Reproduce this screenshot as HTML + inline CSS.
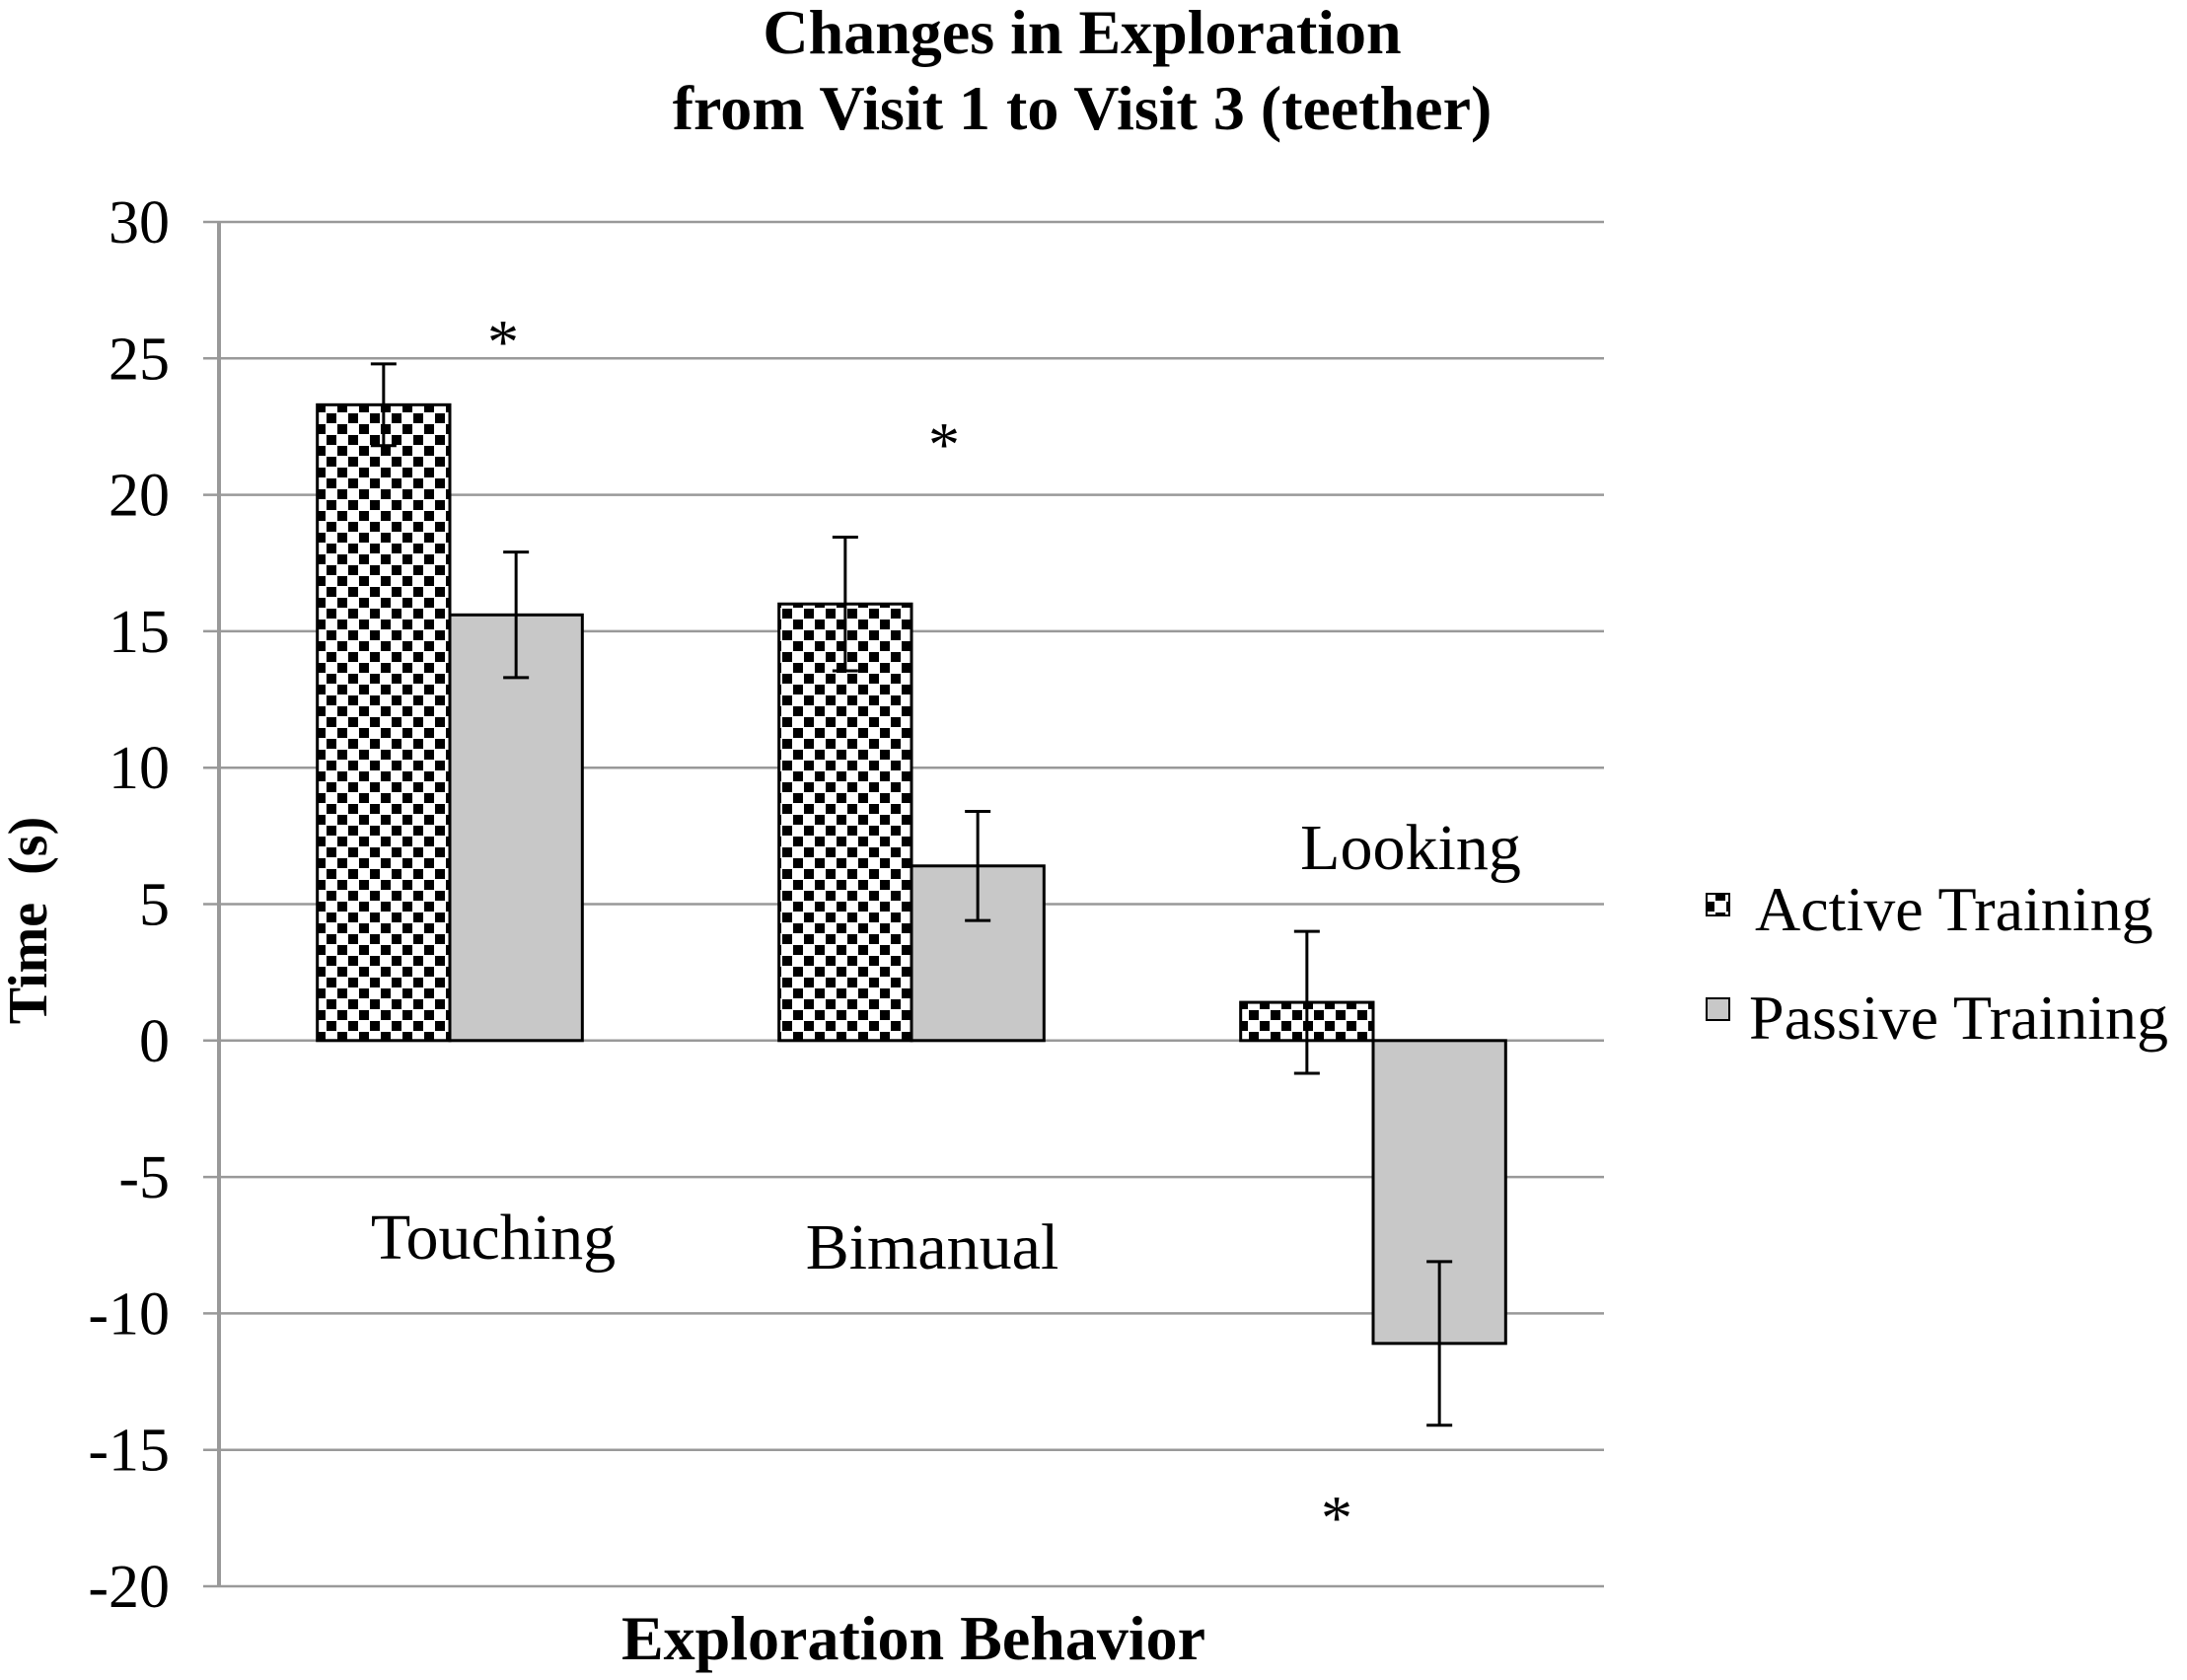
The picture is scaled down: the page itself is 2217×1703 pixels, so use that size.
<!DOCTYPE html>
<html><head><meta charset="utf-8"><style>
body{margin:0;background:#fff}
svg{display:block;font-family:"Liberation Serif",serif}
</style></head><body>
<svg id="chart" width="2217" height="1703" viewBox="0 0 2217 1703">
<defs>
<pattern id="chk" width="22" height="22" patternUnits="userSpaceOnUse">
<rect width="22" height="22" fill="#fff"/>
<rect x="1" y="1" width="10" height="10" fill="#000"/>
<rect x="12" y="12" width="10" height="10" fill="#000"/>
</pattern>
</defs>
<text x="1097" y="54" text-anchor="middle" font-size="64" font-weight="bold">Changes in Exploration</text>
<text x="1097" y="131" text-anchor="middle" font-size="64" font-weight="bold">from Visit 1 to Visit 3 (teether)</text>
<g id="grid"></g><g id="bars"></g><g id="errs"></g>
<text transform="translate(47,933) rotate(-90)" text-anchor="middle" font-size="56" font-weight="bold" xml:space="preserve">Time  (s)</text>
<text x="926" y="1682" text-anchor="middle" font-size="64" font-weight="bold">Exploration Behavior</text>
<text x="500" y="1276" text-anchor="middle" font-size="66">Touching</text>
<text x="945" y="1286" text-anchor="middle" font-size="66">Bimanual</text>
<text x="1430" y="881" text-anchor="middle" font-size="66">Looking</text>
<text x="510" y="368" text-anchor="middle" font-size="64">*</text>
<text x="957" y="472" text-anchor="middle" font-size="64">*</text>
<text x="1355" y="1560" text-anchor="middle" font-size="64">*</text>
<g>
<rect x="1730" y="906" width="23" height="22" fill="url(#chk)" stroke="#000" stroke-width="2"/>
<text x="1779" y="943" font-size="64">Active Training</text>
<rect x="1730" y="1012" width="23" height="22" fill="#c8c8c8" stroke="#000" stroke-width="2"/>
<text x="1773" y="1053" font-size="64">Passive Training</text>
</g>
</svg>
<script>
const categories=["Touching","Bimanual","Looking"];
const activeValues=[23.3,16.0,1.4];
const passiveValues=[15.6,6.4,-11.1];
const activeErr=[1.5,2.45,2.6];
const passiveErr=[2.3,2.0,3.0];
const yTicks=[30,25,20,15,10,5,0,-5,-10,-15,-20];
const NS="http://www.w3.org/2000/svg";
const x0=222,x1=1626,yTop=225,yBot=1608,vMax=30,vMin=-20;
function y(v){return yTop+(vMax-v)/(vMax-vMin)*(yBot-yTop);}
const bw=(x1-x0)/categories.length;
function cx(i){return x0+bw*(i+0.5);}
const barW=bw*0.287;
function mk(tag,attrs,parent){const e=document.createElementNS(NS,tag);for(const k in attrs)e.setAttribute(k,attrs[k]);document.getElementById(parent).appendChild(e);return e;}
yTicks.forEach(t=>{
 const l=mk('line',{x1:206,x2:x1,y1:y(t),y2:y(t),stroke:'#999','stroke-width':2.5},'grid');
 
 
 const tx=mk('text',{x:172,y:y(t)+21,'text-anchor':'end','font-size':62},'grid');
 tx.textContent=t;
 
 
});
const ax=mk('line',{x1:x0,x2:x0,y1:yTop,y2:yBot,stroke:'#999','stroke-width':4},'grid');


function bar(i,v,e,fill,off,name){
 const top=Math.min(y(v),y(0)),h=Math.abs(y(v)-y(0));
 const r=mk('rect',{x:cx(i)+off,y:top,width:barW,height:h,fill:fill,stroke:'#000','stroke-width':3},'bars');
 
 
 const mx=cx(i)+off+barW/2;
 const g=mk('path',{d:`M${mx},${y(v+e)}V${y(v-e)}M${mx-13},${y(v+e)}H${mx+13}M${mx-13},${y(v-e)}H${mx+13}`,stroke:'#000','stroke-width':3,fill:'none'},'errs');
 
 
}
categories.forEach((c,i)=>{
 bar(i,activeValues[i],activeErr[i],'url(#chk)',-barW,'bar-active-'+c.toLowerCase());
 bar(i,passiveValues[i],passiveErr[i],'#c8c8c8',0,'bar-passive-'+c.toLowerCase());
});
</script>
</body></html>
